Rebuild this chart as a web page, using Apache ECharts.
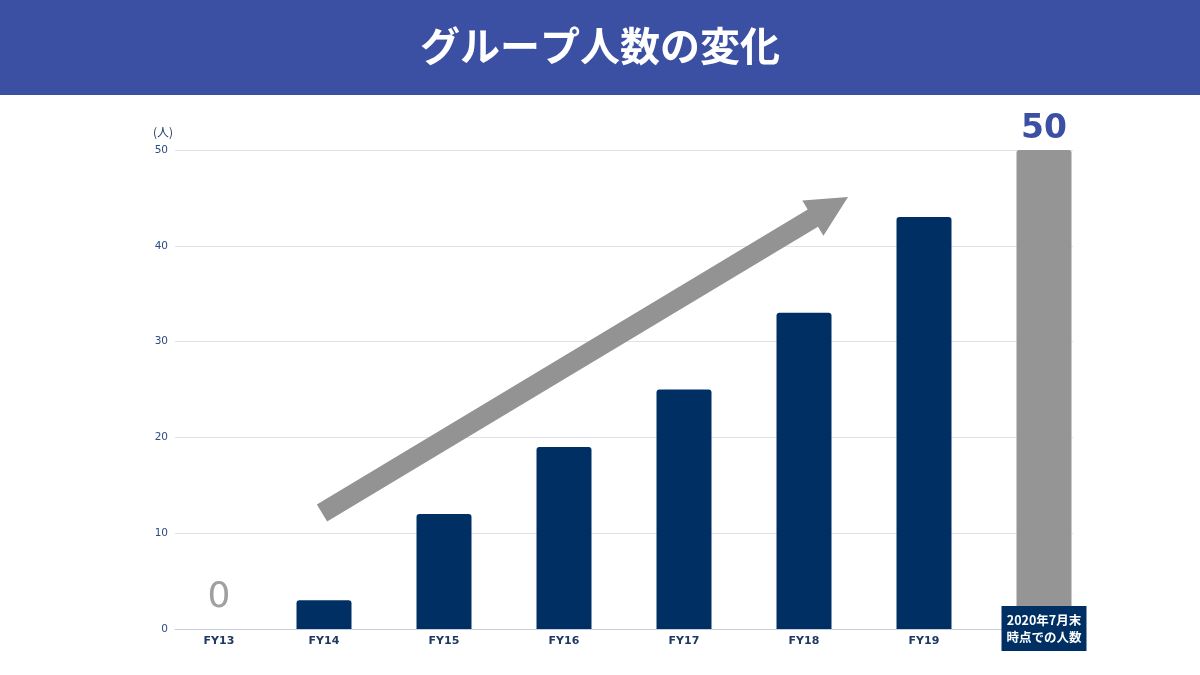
<!DOCTYPE html>
<html>
<head>
<meta charset="utf-8">
<script src="https://cdn.jsdelivr.net/npm/echarts@6/dist/echarts.min.js"></script>
<style>
html,body{margin:0;padding:0;background:#ffffff;}
#chart{width:1200px;height:675px;}
</style>
</head>
<body>
<div id="chart"></div>
<script>
// ---- data ----
const chartTitle = 'グループ人数の変化';
const unitLabel = '(人)';
const categories = ['FY13', 'FY14', 'FY15', 'FY16', 'FY17', 'FY18', 'FY19', '2020年7月末\n時点での人数'];
const headcount = [0, 3, 12, 19, 25, 33, 43, 50];
const yMin = 0;
const yMax = 50;
const yStep = 10;

// ---- styles ----
const NAVY = '#003063';
const HEADER = '#3b50a3';
const GRAY = '#959595';
const lastIdx = categories.length - 1;

const barData = headcount.map((v, i) => {
  const item = { value: v };
  if (i === 0) {
    item.label = { show: true, color: '#a0a0a0', fontSize: 36, fontWeight: 'normal', offset: [15, 0], distance: 13, fontFamily: 'DejaVu Sans' };
  }
  if (i === lastIdx) {
    item.itemStyle = { color: GRAY };
    item.label = { show: true, color: HEADER, fontSize: 33, fontWeight: 'bold', distance: 4, fontFamily: 'DejaVu Sans' };
  }
  return item;
});

// arrow (decorative annotation) geometry
function arrowPoints(tx, ty, px, py, shaftHalf, headLen, headHalf) {
  const dx = px - tx, dy = py - ty, L = Math.hypot(dx, dy);
  const ux = dx / L, uy = dy / L, nx = -uy, ny = ux;
  const bx = px - headLen * ux, by = py - headLen * uy;
  return [
    [tx - shaftHalf * nx, ty - shaftHalf * ny],
    [bx - shaftHalf * nx, by - shaftHalf * ny],
    [bx - headHalf * nx, by - headHalf * ny],
    [px, py],
    [bx + headHalf * nx, by + headHalf * ny],
    [bx + shaftHalf * nx, by + shaftHalf * ny],
    [tx + shaftHalf * nx, ty + shaftHalf * ny]
  ];
}

const chart = echarts.init(document.getElementById('chart'));
chart.setOption({
  backgroundColor: '#ffffff',
  animation: false,
  title: {
    text: chartTitle,
    left: 'center',
    top: 26,
    padding: 0,
    textStyle: { color: '#ffffff', fontSize: 40, fontWeight: 'bold', fontFamily: 'Noto Sans CJK JP' }
  },
  graphic: [
    { type: 'rect', z: -10, shape: { x: 0, y: 0, width: 1200, height: 95 }, style: { fill: HEADER } },
    { type: 'polygon', z: 5, shape: { points: arrowPoints(322, 513, 848, 197, 10, 41, 20.5) }, style: { fill: '#939393' } }
  ],
  grid: [
    { left: 175, right: 127, top: 150, bottom: 46 },
    { left: 144, right: 96, top: 150, bottom: 46 }
  ],
  xAxis: [
    {
      gridIndex: 0, type: 'category', data: categories, position: 'bottom',
      axisLine: { show: true, lineStyle: { color: '#c3cddb', width: 1 } },
      axisTick: { show: false }, axisLabel: { show: false }, splitLine: { show: false }
    },
    {
      gridIndex: 1, type: 'category', data: categories, position: 'bottom',
      axisLine: { show: false }, axisTick: { show: false },
      axisLabel: {
        margin: 7, color: '#1f3864', fontSize: 11, fontWeight: 'bold', fontFamily: 'DejaVu Sans',
        interval: 0,
        formatter: function (v, i) {
          if (i === lastIdx) return '';
          if (i === 0) return '{first|' + v + '}';
          return v;
        },
        rich: { first: { padding: [0, 0, 0, 30], color: '#1f3864', fontSize: 11, fontWeight: 'bold', fontFamily: 'DejaVu Sans' } }
      }
    },
    {
      gridIndex: 1, type: 'category', data: categories, position: 'bottom', z: 20,
      axisLine: { show: false }, axisTick: { show: false },
      axisLabel: {
        margin: -23,
        interval: function (i) { return i === lastIdx; },
        color: '#ffffff', fontSize: 12.5, fontWeight: 'bold', fontFamily: 'Noto Sans CJK JP',
        lineHeight: 17, backgroundColor: NAVY, padding: [6, 5, 5, 5]
      }
    }
  ],
  yAxis: [
    {
      gridIndex: 0, type: 'value', min: yMin, max: yMax, interval: yStep,
      name: unitLabel, nameGap: 12,
      nameTextStyle: { color: '#1f3864', fontSize: 12, align: 'right', fontFamily: 'Noto Sans CJK JP', padding: [0, 2, 0, 0] },
      axisLine: { show: false }, axisTick: { show: false },
      axisLabel: { margin: 7, color: '#2c4a84', fontSize: 10.5, fontFamily: 'DejaVu Sans' },
      splitLine: { show: true, lineStyle: { color: '#dde3ec', width: 1 } }
    },
    {
      gridIndex: 1, type: 'value', min: yMin, max: yMax, interval: yStep,
      show: false, splitLine: { show: false }
    }
  ],
  series: [
    {
      type: 'bar', xAxisIndex: 1, yAxisIndex: 1, data: barData, barWidth: 55,
      itemStyle: { color: NAVY, borderRadius: [3, 3, 0, 0] },
      label: { show: false, position: 'top' },
      z: 3
    }
  ]
});
</script>
</body>
</html>
